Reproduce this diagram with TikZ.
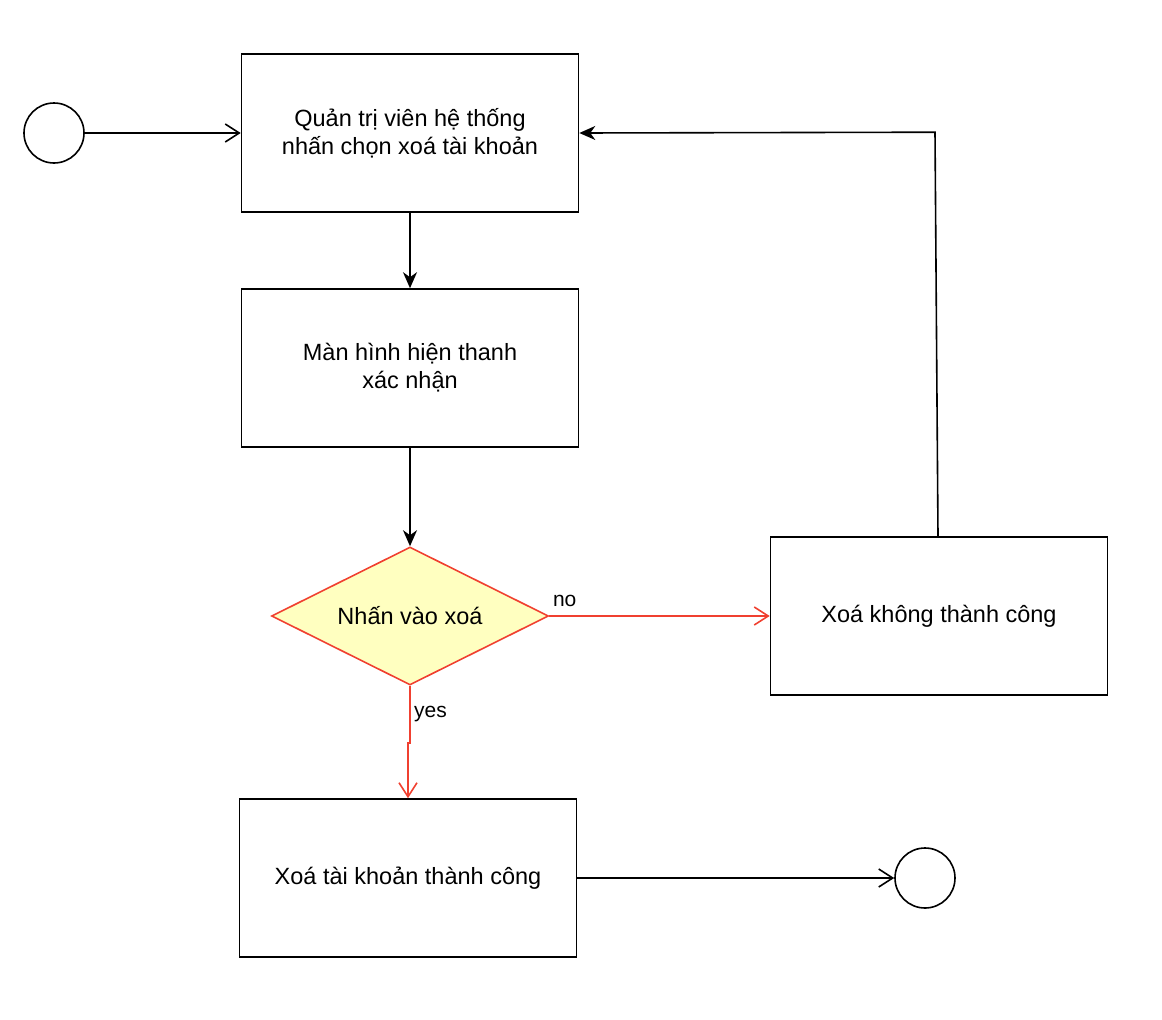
\documentclass[tikz,border=0pt]{standalone}
\usepackage{fontspec}
\setmainfont{Liberation Sans}
\usetikzlibrary{shapes.geometric,arrows.meta,positioning}
\definecolor{flowred}{RGB}{240,64,48}
\definecolor{flowyellow}{RGB}{255,255,192}
\begin{document}
\begin{tikzpicture}[x=1pt, y=-1pt, line width=1.6pt,
    box/.style={draw, rectangle, minimum width=337pt, minimum height=158pt,
        align=center, font=\fontsize{23.5}{28}\selectfont},
    state/.style={draw, circle, minimum size=60pt, inner sep=0pt},
    check/.style={draw=flowred, fill=flowyellow, diamond, aspect=2,
        minimum width=277pt, minimum height=138pt, inner sep=0pt,
        font=\fontsize{23.5}{28}\selectfont},
    open/.style={-{Straight Barb[length=14pt, width=18pt, line width=1.6pt]}},
    solid tip/.style={-{Stealth[length=16pt, width=14pt, inset=5pt]}},
    lbl/.style={font=\fontsize{21}{24}\selectfont}]

    \useasboundingbox (0,0) rectangle (1162,1020);

    \node [state] (start) at (54,133) {};
    \node [box] (pick) at (410,133) {Quản trị viên hệ thống\\nhấn chọn xoá tài khoản};
    \node [box] (confirm) at (410,368) {Màn hình hiện thanh\\xác nhận};
    \node [check] (ask) at (410,616) {Nhấn vào xoá};
    \node [box] (fail) at (939,616) {Xoá không thành công};
    \node [box] (done) at (408,878) {Xoá tài khoản thành công};
    \node [state] (stop) at (925,878) {};

    \draw[open] (start) -- (pick);
    \draw[solid tip] (pick) -- (confirm);
    \draw[solid tip] (confirm) -- (ask);
    \draw[open, flowred] (ask) -- node [lbl, black, above, pos=0.07, yshift=5pt] {no} (fail);
    \draw[open, flowred] (ask.south) -- node [lbl, black, right, pos=0.5] {yes} ++(0,57) -- ++(-2,0) -- (done.north);
    \draw[solid tip] (fail.north) ++(-1,0) -- ++(-3,-404) -- (pick.east);
    \draw[open] (done) -- (stop);

    \end{tikzpicture}
\end{document}
